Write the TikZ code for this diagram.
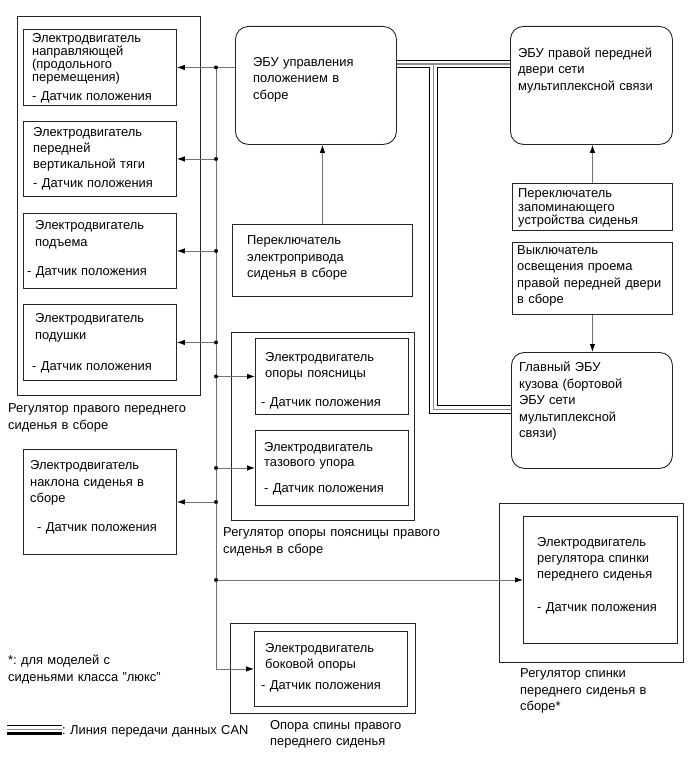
\documentclass[tikz,border=0pt]{standalone}
\usepackage{fontspec}
\setmainfont{Liberation Sans}
\usetikzlibrary{arrows.meta}
\frenchspacing
\begin{document}
\begin{tikzpicture}[x=1pt,y=-1pt,
  box/.style={draw=black!85, line width=0.9pt, inner sep=0pt, anchor=north west},
  ecubox/.style={box, rounded corners=13pt},
  grp/.style={draw=black!85, line width=0.9pt, inner sep=0pt, anchor=north west},
  txt/.style={inner sep=0pt, anchor=base west, align=left, text width=260pt, font=\fontsize{12.9}{#1}\selectfont},
  txt/.default=16.5,
  wire/.style={draw=black!55, line width=0.8pt},
  arr/.style={wire, -{Latex[length=8pt,width=5.5pt,color=black]}},
  dot/.style={circle, fill=black, inner sep=0pt, minimum size=4pt},
  canb/.style={draw=black, line width=1.9pt},
  cang/.style={draw=black!45, line width=1.1pt},
]
\useasboundingbox (0,0) rectangle (690,757);
\fill[white] (0,0) rectangle (690,757);

% boxes
\node[grp, minimum width=183, minimum height=379] (gL) at (17,16) {};
\node[box, minimum width=153, minimum height=76] (b1) at (23,29) {};
\node[box, minimum width=153, minimum height=75] (b2) at (23,121) {};
\node[box, minimum width=153, minimum height=75] (b3) at (23,213) {};
\node[box, minimum width=153, minimum height=76] (b4) at (23,304) {};
\node[ecubox, minimum width=161, minimum height=118] (ecu) at (235,26) {};
\node[box, minimum width=180, minimum height=72] (sw) at (232,224) {};
\node[ecubox, minimum width=162, minimum height=118] (door) at (510,26) {};
\node[box, minimum width=160, minimum height=47] (mem) at (512,183) {};
\node[box, minimum width=160, minimum height=72] (cour) at (512,242) {};
\node[ecubox, minimum width=161, minimum height=116] (body) at (511,352) {};
\node[grp, minimum width=183, minimum height=188] (gLum) at (231,332) {};
\node[box, minimum width=153, minimum height=76] (l1) at (255,338) {};
\node[box, minimum width=153, minimum height=75] (l2) at (255,430) {};
\node[box, minimum width=153, minimum height=105] (tilt) at (23,449) {};
\node[grp, minimum width=184, minimum height=159] (gSeat) at (499,503) {};
\node[box, minimum width=154, minimum height=127] (seat) at (523,516) {};
\node[grp, minimum width=185, minimum height=90] (gSide) at (230,623) {};
\node[box, minimum width=153, minimum height=75] (side) at (254,631) {};

% texts
\node[txt=12] (t1) at (32,42.5) {Электродвигатель\\направляющей\\(продольного\\перемещения)\\[7pt]- Датчик положения};
\node[txt=16] (t2) at (33,136.5) {Электродвигатель\\передней\\вертикальной тяги\\[3pt]- Датчик положения};
\node[txt=17] (t3) at (35,229.5) {Электродвигатель\\подъема\\[12pt]\hspace*{-8pt}- Датчик положения};
\node[txt=17] (t4) at (35,322.5) {Электродвигатель\\подушки\\[14pt]\hspace*{-3pt}- Датчик положения};
\node[txt=17] (tL) at (8,412.5) {Регулятор правого переднего\\сиденья в сборе};
\node[txt] (tecu) at (253,66.5) {ЭБУ управления\\положением в\\сборе};
\node[txt] (tsw) at (247,244.5) {Переключатель\\электропривода\\сиденья в сборе};
\node[txt] (tdoor) at (518,57.5) {ЭБУ правой передней\\двери сети\\мультиплексной связи};
\node[txt=13.5] (tmem) at (518,197.5) {Переключатель\\запоминающего\\устройства сиденья};
\node[txt=16.3] (tcour) at (517,254.5) {Выключатель\\освещения проема\\правой передней двери\\в сборе};
\node[txt] (tbody) at (519,371.5) {Главный ЭБУ\\кузова (бортовой\\ЭБУ сети\\мультиплексной\\связи)};
\node[txt=15.5] (tl1) at (265,361.5) {Электродвигатель\\опоры поясницы\\[13.5pt]\hspace*{-4pt}- Датчик положения};
\node[txt=15] (tl2) at (264,451.5) {Электродвигатель\\тазового упора\\[11pt]- Датчик положения};
\node[txt=17] (tLum) at (223,536.5) {Регулятор опоры поясницы правого\\сиденья в сборе};
\node[txt] (ttilt) at (30,469.5) {Электродвигатель\\наклона сиденья в\\сборе\\[12.5pt]\hspace*{7pt}- Датчик положения};
\node[txt=16] (tseat) at (537,546.5) {Электродвигатель\\регулятора спинки\\переднего сиденья\\[17pt]- Датчик положения};
\node[txt] (tSeat) at (520,677.5) {Регулятор спинки\\переднего сиденья в\\сборе*};
\node[txt=16] (tside) at (265,652.5) {Электродвигатель\\боковой опоры\\[5pt]\hspace*{-4pt}- Датчик положения};
\node[txt=16] (tSide) at (270,729.5) {Опора спины правого\\переднего сиденья};
\node[txt=17] (tfoot) at (8,664.5) {*: для моделей с\\сиденьями класса "люкс"};
\node[txt] (tleg) at (62,734.5) {: Линия передачи данных CAN};

% bus
\coordinate (bt) at (216,0 |- b1.east);
\draw[wire] (ecu.west |- b1.east) -- (bt);
\draw[arr] (bt) -- (b1.east);
\draw[arr] (bt) |- (side.west);
\foreach \n in {b2,b3,b4,tilt} {
  \draw[arr] (bt |- \n.east) -- (\n.east);
  \node[dot] at (bt |- \n.east) {};
}
\foreach \n in {l1,l2,seat} {
  \draw[arr] (bt |- \n.west) -- (\n.west);
  \node[dot] at (bt |- \n.west) {};
}
\node[dot] at (bt) {};

% switches
\draw[arr] (sw.north) -- (sw.north |- ecu.south);
\draw[arr] (mem.north) -- (mem.north |- door.south);
\draw[arr] (cour.south) -- (cour.south |- body.north);

% CAN
\draw[canb] (ecu.east |- 0,60.5) -- (door.west |- 0,60.5);
\draw[cang] (ecu.east |- 0,64) -- (door.west |- 0,64);
\draw[cang] (433.5,64) |- (body.west |- 0,409.5);
\draw[canb] (ecu.east |- 0,67.5) -- (429.5,67.5) |- (body.west |- 0,413.5);
\draw[canb] (door.west |- 0,67.5) -- (437.5,67.5) |- (body.west |- 0,405.5);

% legend
\draw[canb, line width=1.5pt] (7,725.5) -- (tleg.west |- 0,725.5);
\draw[cang] (7,729.5) -- (tleg.west |- 0,729.5);
\draw[canb, line width=2.2pt] (7,733.5) -- (tleg.west |- 0,733.5);
\end{tikzpicture}
\end{document}
